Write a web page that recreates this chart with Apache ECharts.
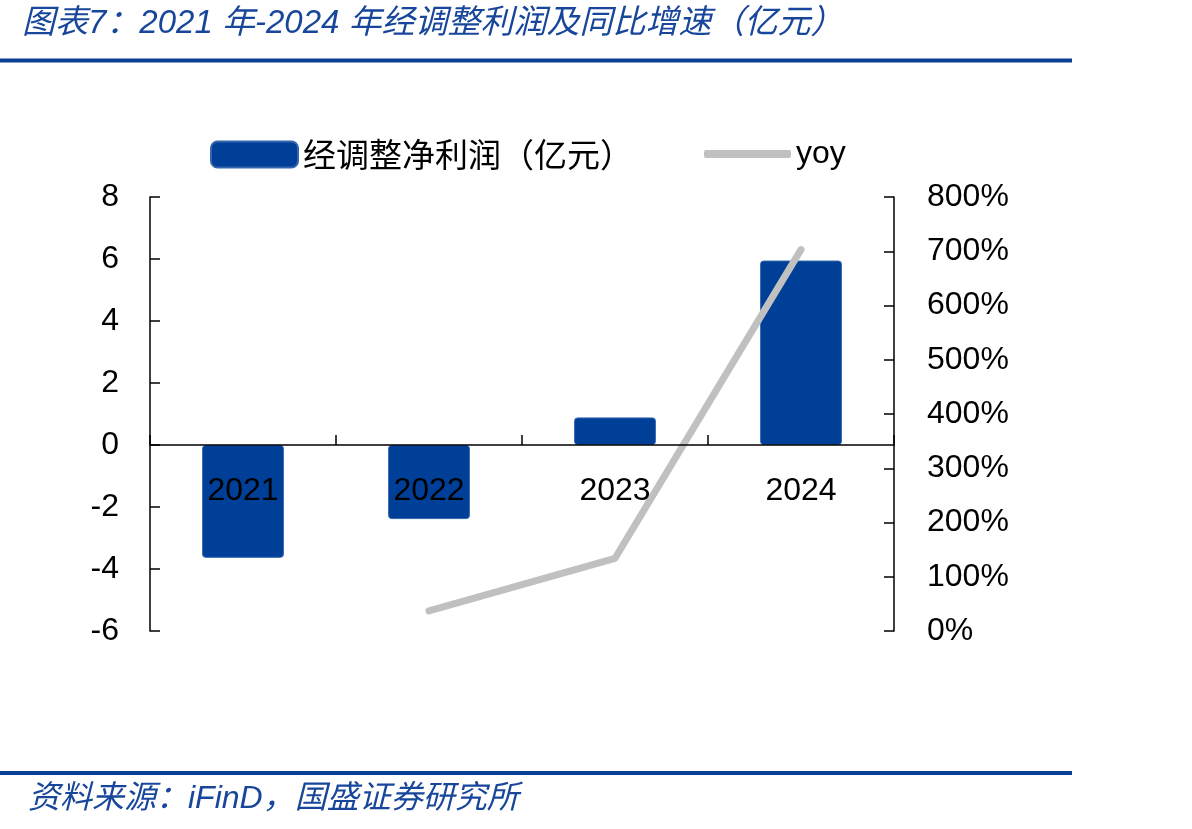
<!DOCTYPE html>
<html>
<head>
<meta charset="utf-8">
<title>经调整利润及同比增速</title>
<script src="https://cdn.jsdelivr.net/npm/echarts@6/dist/echarts.min.js"></script>
<style>
  html, body { margin: 0; padding: 0; background: #fff; }
  #main { width: 1192px; height: 829px; }
</style>
</head>
<body>
<div id="main"></div>
<script>
// 数据
var years = ["2021", "2022", "2023", "2024"];
var adjProfit = [-3.64, -2.39, 0.89, 5.95]; // 经调整净利润（亿元）
var yoyPct = [null, 37, 134, 703]; // yoy, %
var leftMin = -6, leftMax = 8, leftStep = 2;
var rightMin = 0, rightMax = 800, rightStep = 100;

var titleText = "图表7：2021 年-2024 年经调整利润及同比增速（亿元）";
var sourceText = "资料来源：iFinD，国盛证券研究所";

var blue = "#003f98";
var numFont = '"Liberation Sans", Arial, sans-serif';
var cjkFont = '"Noto Sans CJK SC", sans-serif';

// 绘图区
var gridTop = 197, gridBottom = 198, gridH = 829 - gridTop - gridBottom;
// x轴移到左轴0值处
var zeroOffset = -gridH * (0 - leftMin) / (leftMax - leftMin);

var myChart = echarts.init(document.getElementById("main"));
myChart.setOption({
  animation: false,
  grid: { left: 150, right: 298, top: gridTop, bottom: gridBottom },
  legend: [
    {
      data: ["经调整净利润（亿元）"],
      left: 205,
      top: 133,
      itemWidth: 87,
      itemHeight: 26,
      textStyle: { fontSize: 33, fontFamily: cjkFont, color: "#000" }
    },
    {
      data: [{ name: "yoy", icon: "roundRect" }],
      left: 699,
      top: 133,
      itemWidth: 87,
      itemHeight: 8,
      itemStyle: { color: "#c0c0c0" },
      textStyle: { fontSize: 32, fontFamily: numFont, color: "#000" }
    }
  ],
  xAxis: {
    type: "category",
    data: years,
    z: 10,
    position: "bottom",
    offset: zeroOffset,
    axisLine: { onZero: false, lineStyle: { color: "#000", width: 1.5 } },
    axisTick: { show: true, interval: 0, inside: true, length: 10, lineStyle: { color: "#000", width: 1.5 } },
    axisLabel: { margin: 30, fontSize: 32, fontFamily: numFont, color: "#000" }
  },
  yAxis: [
    {
      type: "value",
      min: leftMin,
      max: leftMax,
      interval: leftStep,
      axisLine: { show: true, lineStyle: { color: "#000", width: 1.5 } },
      axisTick: { show: true, inside: true, length: 10, lineStyle: { color: "#000", width: 1.5 } },
      splitLine: { show: false },
      axisLabel: { margin: 31, fontSize: 32, fontFamily: numFont, color: "#000" }
    },
    {
      type: "value",
      position: "right",
      min: rightMin,
      max: rightMax,
      interval: rightStep,
      axisLine: { show: true, lineStyle: { color: "#000", width: 1.5 } },
      axisTick: { show: true, inside: true, length: 10, lineStyle: { color: "#000", width: 1.5 } },
      splitLine: { show: false },
      axisLabel: { margin: 33, fontSize: 32, fontFamily: numFont, color: "#000", formatter: "{value}%" }
    }
  ],
  series: [
    {
      name: "经调整净利润（亿元）",
      type: "bar",
      data: adjProfit,
      barWidth: "44%",
      itemStyle: { color: blue, borderColor: "#3466b0", borderWidth: 1, borderRadius: 3 }
    },
    {
      name: "yoy",
      type: "line",
      yAxisIndex: 1,
      data: yoyPct,
      symbol: "none",
      lineStyle: { color: "#c0c0c0", width: 7, cap: "round", join: "round" },
      itemStyle: { color: "#c0c0c0" }
    }
  ],
  graphic: [
    {
      type: "text",
      left: 22,
      top: 7,
      style: { text: titleText, font: 'italic 33px "Liberation Sans", ' + cjkFont, fill: "#17469a" }
    },
    { type: "rect", shape: { x: 0, y: 58.5, width: 1072, height: 4 }, style: { fill: "#0a3f96" } },
    { type: "rect", shape: { x: 0, y: 771, width: 1072, height: 4 }, style: { fill: "#0a3f96" } },
    {
      type: "text",
      left: 28,
      top: 783,
      style: { text: sourceText, font: 'italic 32px "Liberation Sans", ' + cjkFont, fill: "#17469a" }
    }
  ]
});
</script>
</body>
</html>
